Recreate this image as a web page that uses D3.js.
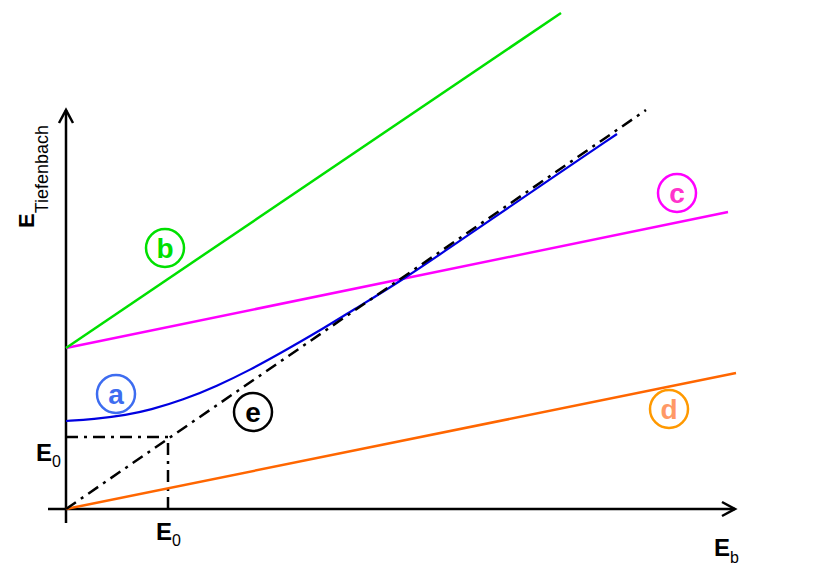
<!DOCTYPE html>
<html>
<head>
<meta charset="utf-8">
<script src="https://cdn.jsdelivr.net/npm/d3@7"></script>
<style>
  body { margin: 0; background: #fff; }
  svg { display: block; font-family: "Liberation Sans", Arial, sans-serif; }
</style>
</head>
<body>
<svg id="chart" width="814" height="574"></svg>
<script>
// data, in schematic units (1 unit ~ 10 px)
const lineB = [[0, 16.1], [49.5, 49.6]]
const lineC = [[0, 16.1], [66.2, 29.7]]
const lineD = [[0, 0], [67.0, 13.6]]
const lineE = [[0, 0], [58.0, 39.9]]
const guideE0 = [[0, 7.2], [10.2, 7.2], [10.2, 0]]
const curveA = [[0, 8.8], [2.7, 8.97], [6.1, 9.4], [8.4, 9.9], [11.7, 10.9],
                [15.1, 12.3], [18.4, 13.9], [21.7, 15.73], [25.1, 17.67],
                [28.7, 19.9], [33.4, 22.73], [40.4, 27.5], [47.4, 32.3], [55.1, 37.5]]
const labelNames = ["a", "b", "c", "d", "e"]
const labelPos = [[5.0, 11.5], [9.9, 26.1], [61.1, 31.6], [60.3, 10.0], [18.7, 9.7]]
const circleColors = ["#3d6cf0", "#00e000", "#ff00ff", "#ff9900", "#000000"]
const textColors = ["#3d6cf0", "#00e000", "#ff33cc", "#ff9966", "#000000"]

const svg = d3.select("#chart")

const x = d3.scaleLinear().domain([0, 67]).range([66, 736])
const y = d3.scaleLinear().domain([0, 40]).range([509, 109])

const line = d3.line().x(d => x(d[0])).y(d => y(d[1]))
const smooth = d3.line().x(d => x(d[0])).y(d => y(d[1])).curve(d3.curveBasis)

// axes
const axes = svg.append("g").attr("stroke", "#000").attr("stroke-width", 2.5).attr("fill", "none")
axes.append("line").attr("x1", x(-1.8)).attr("x2", x(66.9)).attr("y1", y(0)).attr("y2", y(0))
axes.append("line").attr("x1", x(0)).attr("x2", x(0)).attr("y1", y(-1.4)).attr("y2", y(39.9))
axes.append("path")
  .attr("d", "M" + (x(66.9) - 13) + "," + (y(0) - 7) + "L" + x(66.9) + "," + y(0) + "L" + (x(66.9) - 13) + "," + (y(0) + 7))
axes.append("path")
  .attr("d", "M" + (x(0) - 7) + "," + (y(39.9) + 13) + "L" + x(0) + "," + y(39.9) + "L" + (x(0) + 7) + "," + (y(39.9) + 13))

// E0 guides
svg.append("path").attr("d", line(guideE0))
  .attr("fill", "none").attr("stroke", "#000").attr("stroke-width", 2.5)
  .attr("stroke-dasharray", "12,6,3,6")

// straight lines
svg.append("path").attr("d", line(lineD)).attr("fill", "none").attr("stroke", "#ff6600").attr("stroke-width", 2.5)
svg.append("path").attr("d", line(lineC)).attr("fill", "none").attr("stroke", "#ff00ff").attr("stroke-width", 2.5)
svg.append("path").attr("d", line(lineB)).attr("fill", "none").attr("stroke", "#00e000").attr("stroke-width", 2.5)

// curve a
svg.append("path").attr("d", smooth(curveA)).attr("fill", "none").attr("stroke", "#0000e0").attr("stroke-width", 2.2)

// e dash-dot
svg.append("path").attr("d", line(lineE))
  .attr("fill", "none").attr("stroke", "#000").attr("stroke-width", 2.5)
  .attr("stroke-dasharray", "12,6,3,6")

// circled labels
const labels = svg.append("g").selectAll("g")
  .data(labelNames)
  .enter().append("g")
  .attr("transform", (d, i) => "translate(" + x(labelPos[i][0]) + "," + y(labelPos[i][1]) + ")")
labels.append("circle").attr("r", 19)
  .attr("fill", "none").attr("stroke", (d, i) => circleColors[i]).attr("stroke-width", 2.5)
labels.append("text").text(d => d)
  .attr("text-anchor", "middle").attr("y", 10)
  .attr("font-size", 28).attr("font-weight", "bold")
  .attr("fill", (d, i) => textColors[i])

// axis titles
function subLabel(g, main, sub, mainSize, subSize, dy) {
  const t = g.append("text").attr("font-weight", "bold").attr("font-size", mainSize)
  t.append("tspan").text(main)
  t.append("tspan").text(sub).attr("font-size", subSize).attr("font-weight", "normal").attr("dy", dy)
  return t
}
subLabel(svg.append("g").attr("transform", "translate(714,556)"), "E", "b", 24, 16, 7)
subLabel(svg.append("g").attr("transform", "translate(156,540)"), "E", "0", 24, 16, 6)
subLabel(svg.append("g").attr("transform", "translate(36,461)"), "E", "0", 24, 16, 6)
subLabel(svg.append("g").attr("transform", "translate(34,228) rotate(-90)"), "E", "Tiefenbach", 22, 18, 14)
</script>
</body>
</html>
